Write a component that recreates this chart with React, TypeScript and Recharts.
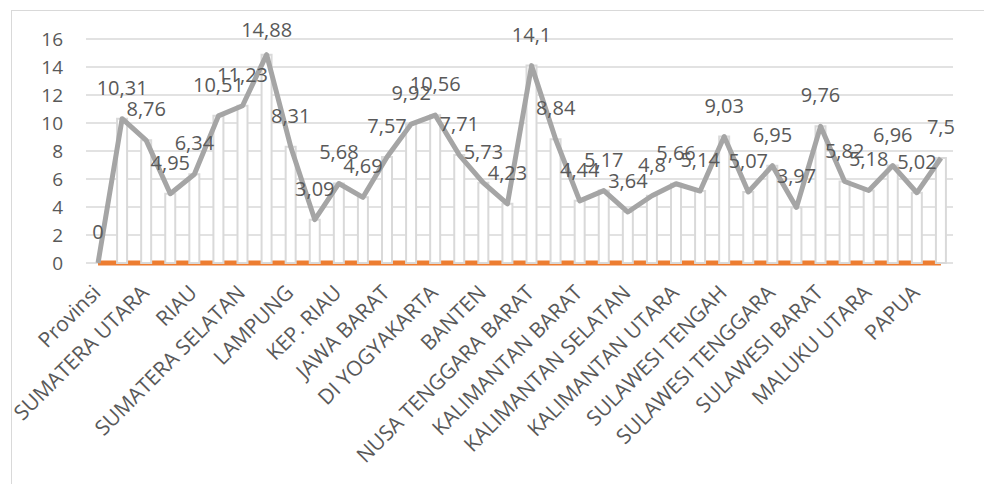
import { ComposedChart, Bar, Line, XAxis, YAxis, CartesianGrid, LabelList } from 'recharts';

const provinces = [
  'Provinsi', 'ACEH', 'SUMATERA UTARA', 'SUMATERA BARAT', 'RIAU', 'JAMBI', 'SUMATERA SELATAN', 'BENGKULU',
  'LAMPUNG', 'KEP. BANGKA BELITUNG', 'KEP. RIAU', 'DKI JAKARTA', 'JAWA BARAT', 'JAWA TENGAH', 'DI YOGYAKARTA',
  'JAWA TIMUR', 'BANTEN', 'BALI', 'NUSA TENGGARA BARAT', 'NUSA TENGGARA TIMUR', 'KALIMANTAN BARAT',
  'KALIMANTAN TENGAH', 'KALIMANTAN SELATAN', 'KALIMANTAN TIMUR', 'KALIMANTAN UTARA', 'SULAWESI UTARA',
  'SULAWESI TENGAH', 'SULAWESI SELATAN', 'SULAWESI TENGGARA', 'GORONTALO', 'SULAWESI BARAT', 'MALUKU',
  'MALUKU UTARA', 'PAPUA BARAT', 'PAPUA', 'INDONESIA',
];

const persentase = [
  0, 10.31, 8.76, 4.95, 6.34, 10.51, 11.23, 14.88, 8.31, 3.09, 5.68, 4.69, 7.57, 9.92, 10.56, 7.71, 5.73, 4.23,
  14.1, 8.84, 4.44, 5.17, 3.64, 4.8, 5.66, 5.14, 9.03, 5.07, 6.95, 3.97, 9.76, 5.82, 5.18, 6.96, 5.02, 7.5,
];

const orangeValues = [
  0, 0, 0, 0, 0, 0, 0, 0, 0, 0, 0, 0, 0, 0, 0, 0, 0, 0,
  0, 0, 0, 0, 0, 0, 0, 0, 0, 0, 0, 0, 0, 0, 0, 0, 0, 0,
];

const yTicks = [0, 2, 4, 6, 8, 10, 12, 14, 16];

const data = provinces.map((name, i) => ({
  name,
  bar: persentase[i] || null,
  line: persentase[i],
  orange: orangeValues[i],
}));

const TEXT = '#595959';
const fmt = (v: number) => String(v).replace('.', ',');

function XTick({ x, y, payload }: any) {
  const ax = x + 4;
  const ay = y + 31;
  return (
    <text x={ax} y={ay} transform={`rotate(-45, ${ax}, ${ay})`} textAnchor="end" fill={TEXT} fontSize={21}>
      {payload.value}
    </text>
  );
}

// labels sit above the point, but stay inside the chart box at the top
function PointLabel({ x, y, value }: any) {
  return (
    <text x={x} y={Math.max(y - 24, 37)} textAnchor="middle" fill={TEXT} fontSize={20}>
      {fmt(value)}
    </text>
  );
}

export default function App() {
  return (
    <div style={{ position: 'absolute', left: 0, top: 0, width: 984, height: 484, overflow: 'hidden', background: '#fff', fontFamily: '"Open Sans", sans-serif' }}>
      <div style={{ position: 'absolute', left: 11, top: 10, width: 1100, height: 600, border: '1.5px solid #d9d9d9' }} />
      <ComposedChart width={984} height={484} data={data} margin={{ top: 39, right: 31, bottom: 21, left: 11 }}>
        <CartesianGrid vertical={false} stroke="#d9d9d9" strokeWidth={1.3} />
        <XAxis dataKey="name" interval={1} tick={<XTick />} tickLine={false} tickSize={0} tickMargin={0} height={200} axisLine={false} />
        <YAxis domain={[0, 16]} ticks={yTicks} width={75} axisLine={false} tickLine={false} tickSize={0} tickMargin={23} tick={{ fill: TEXT, fontSize: 19 }} />
        <Line dataKey="orange" stroke="#ed7d31" strokeWidth={5} dot={false} isAnimationActive={false} zIndex={250} />
        <Bar dataKey="bar" barSize={10} fill="#ffffff" stroke="#d9d9d9" strokeWidth={2} isAnimationActive={false} zIndex={300} />
        <Line dataKey="line" stroke="#a5a5a5" strokeWidth={5} strokeLinejoin="round" dot={false} isAnimationActive={false} zIndex={400}>
          <LabelList dataKey="line" content={<PointLabel />} />
        </Line>
      </ComposedChart>
    </div>
  );
}
